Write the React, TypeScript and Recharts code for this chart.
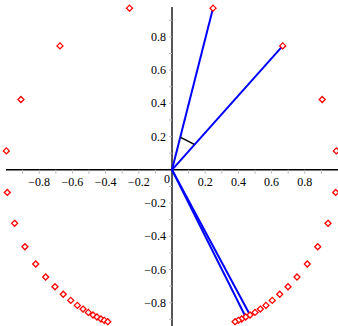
import React from "react";
import {
  ScatterChart,
  Scatter,
  XAxis,
  YAxis,
  ReferenceLine,
  ReferenceDot,
} from "recharts";

// points
const upperLeftX = [-0.256, -0.675, -0.91, -0.998];
const upperRightX = [0.247, 0.667, 0.905, 0.99];
const upperY = [0.973, 0.746, 0.423, 0.114];

const lowerLeftX = [
  -0.992, -0.948, -0.886, -0.821, -0.761, -0.705, -0.655, -0.61, -0.57,
  -0.536, -0.504, -0.476, -0.452, -0.428, -0.408, -0.387,
];
const lowerRightX = [
  0.986, 0.94, 0.878, 0.815, 0.753, 0.699, 0.649, 0.604, 0.566, 0.532, 0.5,
  0.47, 0.444, 0.42, 0.4, 0.38,
];
const lowerY = [
  -0.136, -0.322, -0.463, -0.567, -0.645, -0.704, -0.749, -0.786, -0.816,
  -0.838, -0.858, -0.874, -0.886, -0.898, -0.906, -0.914,
];

// blue rays from the origin
const rayX = [0.247, 0.667, 0.444, 0.47];
const rayY = [0.973, 0.746, -0.886, -0.874];

// small black mark between the two upper rays
const markX = [0.052, 0.134];
const markY = [0.195, 0.153];

const xLabels = [-0.8, -0.6, -0.4, -0.2, 0.2, 0.4, 0.6, 0.8];
const yLabels = [-0.8, -0.6, -0.4, -0.2, 0.2, 0.4, 0.6, 0.8];
const minorTicks = [
  -0.9, -0.8, -0.7, -0.6, -0.5, -0.4, -0.3, -0.2, -0.1, 0.1, 0.2, 0.3, 0.4,
  0.5, 0.6, 0.7, 0.8, 0.9,
];

const points = [
  ...upperLeftX.map((x, i) => ({ x, y: upperY[i] })),
  ...upperRightX.map((x, i) => ({ x, y: upperY[i] })),
  ...lowerLeftX.map((x, i) => ({ x, y: lowerY[i] })),
  ...lowerRightX.map((x, i) => ({ x, y: lowerY[i] })),
];

const font = '"Liberation Serif", serif';

const fmt = (v: number) => (v < 0 ? "\u2212" + Math.abs(v) : String(v));

const Diamond = (props: any) => {
  const { cx, cy } = props;
  const r = 3;
  return (
    <polygon
      points={`${cx},${cy - r} ${cx + r},${cy} ${cx},${cy + r} ${cx - r},${cy}`}
      fill="white"
      stroke="#ff0000"
      strokeWidth={1.3}
    />
  );
};

const tickLabel =
  (text: string, dx: number, dy: number, anchor: string) => (p: any) => {
    const vb = p.viewBox || {};
    return (
      <text
        x={vb.x + dx}
        y={vb.y + dy}
        textAnchor={anchor}
        dominantBaseline="central"
        fontFamily={font}
        style={{ fontFamily: font, fontSize: 12 }}
        fill="#000"
      >
        {text}
      </text>
    );
  };

export default function App() {
  return (
    <div
      style={{
        position: "absolute",
        left: 0,
        top: 0,
        background: "#fff",
        fontFamily: font,
      }}
    >
      <ScatterChart
        width={338}
        height={326}
        margin={{ top: 7, right: 0, bottom: 0, left: 6 }}
      >
        <XAxis type="number" dataKey="x" domain={[-1, 1]} hide />
        <YAxis type="number" dataKey="y" domain={[-0.94, 0.98]} hide />

        {/* axes through origin */}
        <ReferenceLine y={0} stroke="#000" strokeWidth={1.5} />
        <ReferenceLine x={0} stroke="#555" strokeWidth={2} />

        {/* small ticks */}
        {minorTicks.map((t) => (
          <ReferenceLine
            key={"xt" + t}
            segment={[{ x: t, y: 0 }, { x: t, y: -0.024 }]}
            stroke="#bbb"
            strokeWidth={1}
          />
        ))}
        {minorTicks.map((t) => (
          <ReferenceLine
            key={"yt" + t}
            segment={[{ x: -0.018, y: t }, { x: 0, y: t }]}
            stroke="#bbb"
            strokeWidth={1}
          />
        ))}

        {/* tick labels */}
        {xLabels.map((t) => (
          <ReferenceDot
            key={"xl" + t}
            x={t}
            y={0}
            r={0}
            fill="none"
            stroke="none"
            label={tickLabel(fmt(t), 0, 12, "middle")}
          />
        ))}
        {yLabels.map((t) => (
          <ReferenceDot
            key={"yl" + t}
            x={0}
            y={t}
            r={0}
            fill="none"
            stroke="none"
            label={tickLabel(fmt(t), -6, 0, "end")}
          />
        ))}
        <ReferenceDot
          x={0}
          y={0}
          r={0}
          fill="none"
          stroke="none"
          label={tickLabel("0", -5, 9, "middle")}
        />

        {/* rays */}
        {rayX.map((x, i) => (
          <ReferenceLine
            key={"ray" + i}
            segment={[{ x: 0, y: 0 }, { x, y: rayY[i] }]}
            stroke="#0000ff"
            strokeWidth={2}
          />
        ))}
        <ReferenceLine
          segment={[
            { x: markX[0], y: markY[0] },
            { x: markX[1], y: markY[1] },
          ]}
          stroke="#000"
          strokeWidth={1.5}
        />

        <Scatter data={points} shape={Diamond} isAnimationActive={false} />
      </ScatterChart>
    </div>
  );
}
